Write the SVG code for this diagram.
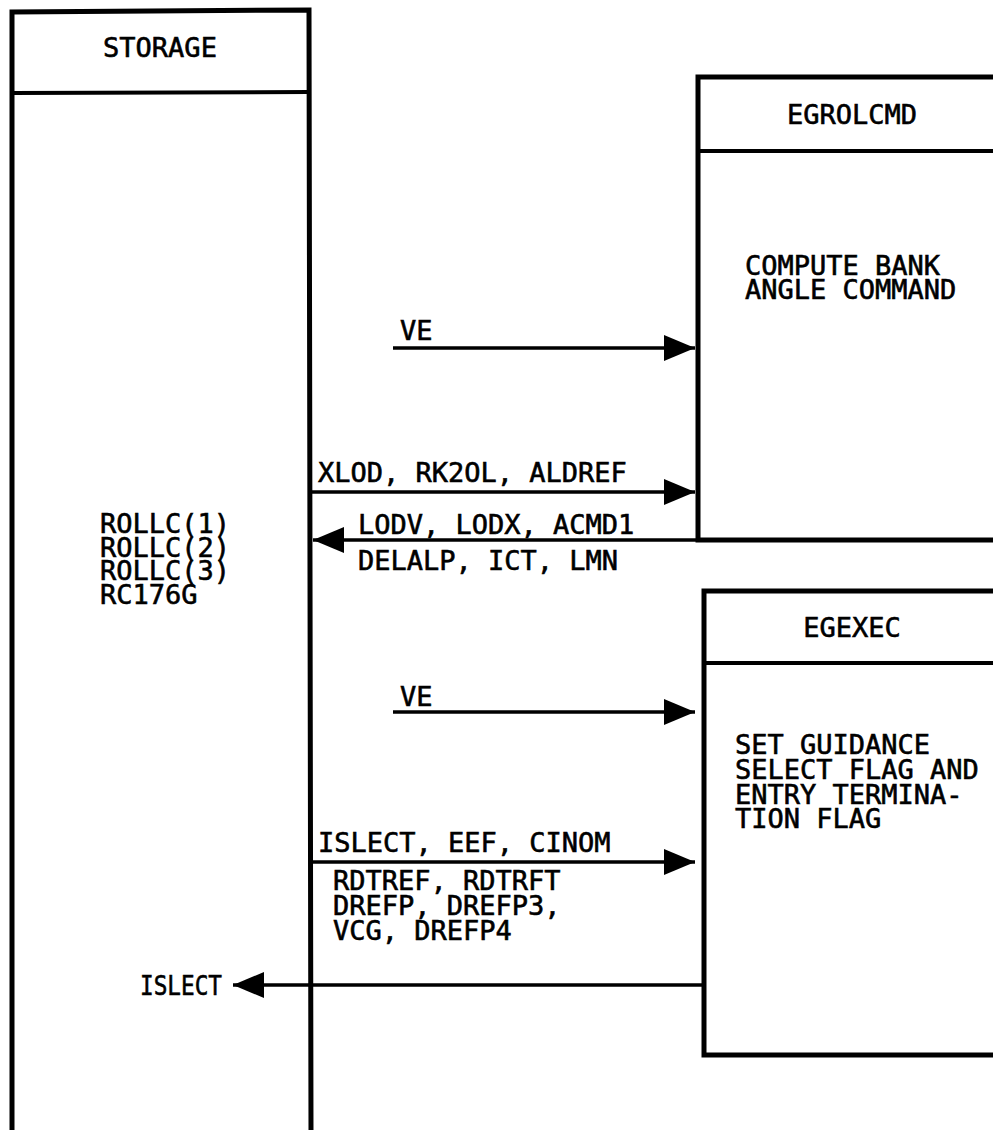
<svg xmlns="http://www.w3.org/2000/svg" width="993" height="1130" viewBox="0 0 993 1130">
<style>
.box{fill:none;stroke:#000;stroke-width:5}
.div{fill:none;stroke:#000;stroke-width:4}
.con{fill:none;stroke:#000;stroke-width:3.5}
text{font-family:"DejaVu Sans Mono","Liberation Mono",monospace;font-size:27px;fill:#000;stroke:#000;stroke-width:0.6}
.c{text-anchor:middle}
</style>
<defs>
<marker id="ah" markerUnits="userSpaceOnUse" markerWidth="32" markerHeight="28" refX="31" refY="13" orient="auto">
<path d="M0,0 L31,13 L0,26 Z" fill="#000"/>
</marker>
</defs>
<rect width="993" height="1130" fill="#fff"/>
<g id="storage">
<path class="box" d="M12,1135 L12,12 L309,10 L311,1135"/>
<line class="div" x1="12" y1="93" x2="309" y2="92"/>
<text class="c" x="160" y="57">STORAGE</text>
<text x="100" y="533"><tspan x="100" y="533">ROLLC(1)</tspan><tspan x="100" y="557">ROLLC(2)</tspan><tspan x="100" y="580">ROLLC(3)</tspan><tspan x="100" y="604">RC176G</tspan></text>
</g>
<g id="egrolcmd">
<rect class="box" x="698" y="77" width="320" height="463"/>
<line class="div" x1="698" y1="151" x2="1000" y2="151"/>
<text class="c" x="852" y="124">EGROLCMD</text>
<text x="745" y="275"><tspan x="745" y="275">COMPUTE BANK</tspan><tspan x="745" y="299">ANGLE COMMAND</tspan></text>
</g>
<g id="egexec">
<rect class="box" x="704" y="591" width="320" height="464"/>
<line class="div" x1="704" y1="663" x2="1000" y2="663"/>
<text class="c" x="852" y="637">EGEXEC</text>
<text x="735" y="754"><tspan x="735" y="754">SET GUIDANCE</tspan><tspan x="735" y="779">SELECT FLAG AND</tspan><tspan x="735" y="804">ENTRY TERMINA-</tspan><tspan x="735" y="828">TION FLAG</tspan></text>
</g>
<g id="connectors">
<line class="con" x1="393" y1="348" x2="695" y2="348" marker-end="url(#ah)"/>
<line class="con" x1="311" y1="492" x2="695" y2="492" marker-end="url(#ah)"/>
<line class="con" x1="698" y1="540" x2="313" y2="540" marker-end="url(#ah)"/>
<line class="con" x1="393" y1="712" x2="695" y2="712" marker-end="url(#ah)"/>
<line class="con" x1="311" y1="862" x2="695" y2="862" marker-end="url(#ah)"/>
<line class="con" x1="704" y1="985" x2="233" y2="985" marker-end="url(#ah)"/>
<text x="400" y="340">VE</text>
<text x="318" y="482">XLOD, RK2OL, ALDREF</text>
<text x="358" y="534"><tspan x="358" y="534">LODV, LODX, ACMD1</tspan><tspan x="358" y="570">DELALP, ICT, LMN</tspan></text>
<text x="400" y="706">VE</text>
<text x="318" y="852">ISLECT, EEF, CINOM</text>
<text x="333" y="890"><tspan x="333" y="890">RDTREF, RDTRFT</tspan><tspan x="333" y="915">DREFP, DREFP3,</tspan><tspan x="333" y="940">VCG, DREFP4</tspan></text>
<text x="140" y="995" textLength="82" lengthAdjust="spacingAndGlyphs">ISLECT</text>
</g>
</svg>
